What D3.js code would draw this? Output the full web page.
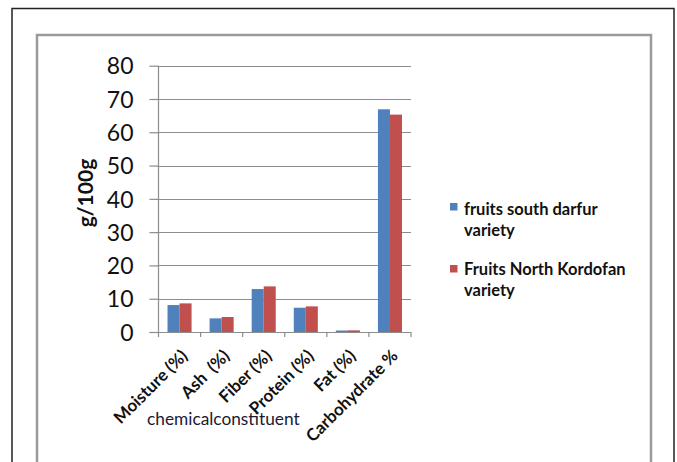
<!DOCTYPE html>
<html>
<head>
<meta charset="utf-8">
<script src="https://cdn.jsdelivr.net/npm/d3@7"></script>
<style>
  html, body { margin: 0; padding: 0; background: #fff; }
  svg { display: block; }
</style>
</head>
<body>
<svg id="chart" width="677" height="462"></svg>
<script>
// Proximate composition of the two fruit varieties (g/100g)
const categories = ["Moisture (%)", "Ash  (%)", "Fiber (%)", "Protein (%)", "Fat (%)", "Carbohydrate %"];
const seriesNames = ["fruits south darfur variety", "Fruits North Kordofan variety"];
const southDarfur = [8.1, 4.1, 12.9, 7.3, 0.45, 66.9];
const northKordofan = [8.6, 4.5, 13.7, 7.7, 0.5, 65.3];
const yTicks = [0, 10, 20, 30, 40, 50, 60, 70, 80];
const legendLines = [["fruits south darfur", "variety"], ["Fruits North Kordofan", "variety"]];
const colors = ["#4F81BD", "#C0504D"];

const svg = d3.select("#chart");
const font = "Lato, 'Open Sans', 'Liberation Sans', sans-serif";

// frames
svg.append("rect").attr("x", 12).attr("y", 8.5).attr("width", 662).attr("height", 470)
  .attr("fill", "none").attr("stroke", "#222").attr("stroke-width", 1.5);
svg.append("rect").attr("x", 37).attr("y", 35).attr("width", 614).attr("height", 440)
  .attr("fill", "none").attr("stroke", "#9a9a9a").attr("stroke-width", 2.5);

const plot = { left: 158.5, right: 411, top: 65.7, bottom: 332 };

const x = d3.scaleBand().domain(categories).range([plot.left, plot.right]).padding(0);
const xs = d3.scaleBand().domain([0, 1]).range([0, x.bandwidth()]).paddingInner(0).paddingOuter(0.75);
const y = d3.scaleLinear().domain([0, 80]).range([plot.bottom, plot.top]);

// gridlines
svg.append("g").selectAll("line").data(yTicks.filter(d => d > 0)).join("line")
  .attr("x1", plot.left).attr("x2", plot.right)
  .attr("y1", d => Math.round(y(d)) + 0.5).attr("y2", d => Math.round(y(d)) + 0.5)
  .attr("stroke", "#8c8c8c").attr("stroke-width", 1.2);

// y axis
const yAxis = svg.append("g").attr("transform", `translate(${plot.left},0)`)
  .call(d3.axisLeft(y).tickValues(yTicks).tickSize(9).tickPadding(16));
yAxis.select(".domain").attr("stroke", "#8c8c8c").attr("stroke-width", 1.2)
  .attr("d", `M0,${plot.top}V${plot.bottom}`);
yAxis.selectAll(".tick line").attr("stroke", "#8c8c8c").attr("stroke-width", 1.2);
yAxis.selectAll(".tick text").attr("font-family", font).attr("font-size", 23)
  .attr("fill", "#111").attr("dy", "0.36em");

// bars
const data = categories.map((c, i) => ({ c, v: [southDarfur[i], northKordofan[i]] }));
const groups = svg.append("g").selectAll("g").data(data).join("g")
  .attr("transform", d => `translate(${x(d.c)},0)`);
groups.selectAll("rect").data(d => d.v.map((v, k) => ({ v, k }))).join("rect")
  .attr("x", d => xs(d.k)).attr("width", xs.bandwidth())
  .attr("y", d => y(d.v)).attr("height", d => y(0) - y(d.v))
  .attr("fill", d => colors[d.k]);

// x axis
const xAxis = svg.append("g").attr("transform", `translate(0,${plot.bottom})`);
xAxis.append("line").attr("x1", plot.left - 9).attr("x2", plot.right)
  .attr("y1", 0.5).attr("y2", 0.5).attr("stroke", "#8c8c8c").attr("stroke-width", 1.2);
const edges = categories.map(c => x(c)).concat([plot.right]);
xAxis.selectAll("line.tk").data(edges).join("line").attr("class", "tk")
  .attr("x1", d => d).attr("x2", d => d).attr("y1", 0).attr("y2", 5)
  .attr("stroke", "#8c8c8c").attr("stroke-width", 1.2);
xAxis.selectAll("text").data(categories).join("text")
  .attr("transform", d => `translate(${x(d) + x.bandwidth() / 2 + 9},${25}) rotate(-45)`)
  .attr("text-anchor", "end")
  .attr("font-family", font).attr("font-weight", "bold").attr("font-size", 17)
  .attr("fill", "#111").style("white-space", "pre")
  .text(d => d);

// axis titles
svg.append("text").attr("transform", "translate(93,193) rotate(-90)")
  .attr("text-anchor", "middle").attr("font-family", font).attr("font-weight", "bold")
  .attr("font-size", 21).attr("fill", "#111").text("g/100g");
svg.append("text").attr("x", 147).attr("y", 425)
  .attr("font-family", font).attr("font-size", 17.3).attr("fill", "#1a1a33")
  .text("chemicalconstituent");

// legend
const legend = svg.append("g").selectAll("g").data(legendLines).join("g")
  .attr("transform", (d, i) => `translate(450,${215 + i * 60})`);
legend.append("rect").attr("x", 0).attr("y", (d, i) => -12 + i * 2).attr("width", 7.5).attr("height", 7.5)
  .attr("fill", (d, i) => colors[i]);
legend.each(function (lines) {
  const t = d3.select(this).append("text").attr("font-family", font).attr("font-weight", "bold")
    .attr("font-size", 16.5).attr("fill", "#111");
  t.selectAll("tspan").data(lines).join("tspan")
    .attr("x", 14).attr("y", (d, j) => j * 20.5).text(d => d);
});
</script>
</body>
</html>
